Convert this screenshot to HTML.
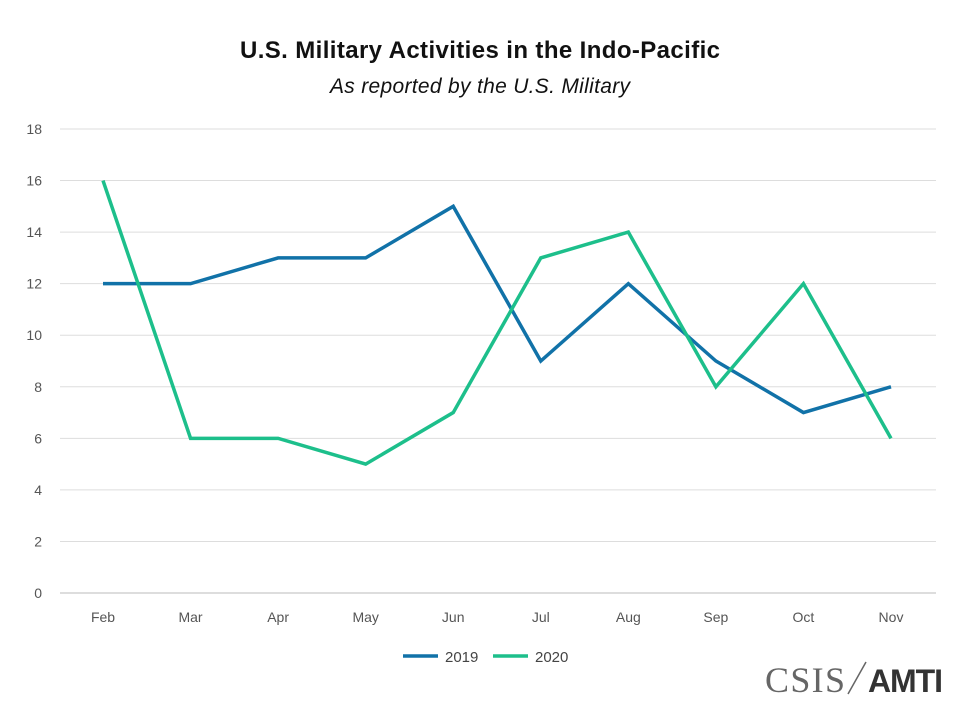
<!DOCTYPE html>
<html><head><meta charset="utf-8"><style>
body{margin:0;background:#fff;}
svg text{font-family:"Liberation Sans",sans-serif;}
svg text.serif{font-family:"Liberation Serif",serif;}
</style></head><body>
<svg id="chart" width="960" height="706" xmlns="http://www.w3.org/2000/svg">
<rect width="960" height="706" fill="#fff"/>
<text x="480" y="58" text-anchor="middle" font-size="24" font-weight="bold" fill="#111" textLength="480">U.S. Military Activities in the Indo-Pacific</text>
<text x="480" y="93" text-anchor="middle" font-size="21" font-style="italic" fill="#111" textLength="300">As reported by the U.S. Military</text>
<g id="grid"></g><g id="yticks"></g><g id="xticks"></g><g id="series"></g>
<g>
<line x1="403" y1="656" x2="438" y2="656" stroke="#1172a8" stroke-width="3.5"/>
<text x="445" y="662" font-size="15" fill="#444">2019</text>
<line x1="493" y1="656" x2="528" y2="656" stroke="#1dbf8b" stroke-width="3.5"/>
<text x="535" y="662" font-size="15" fill="#444">2020</text>
</g>
<g>
<text class="serif" x="765" y="692" font-size="36" fill="#666" textLength="80">CSIS</text>
<line x1="848" y1="694" x2="866" y2="662" stroke="#666" stroke-width="1.5"/>
<text x="868" y="692" font-size="32" font-weight="bold" fill="#333" textLength="75">AMTI</text>
</g>
</svg>
<script>
const categories=["Feb","Mar","Apr","May","Jun","Jul","Aug","Sep","Oct","Nov"];
const values2019=[12,12,13,13,15,9,12,9,7,8];
const values2020=[16,6,6,5,7,13,14,8,12,6];
const yTicks=[0,2,4,6,8,10,12,14,16,18];
const NS="http://www.w3.org/2000/svg";
const x=i=>103+i*(891-103)/(categories.length-1);
const y=v=>593-v*(593-129)/18;
function mk(t,a,p){const e=document.createElementNS(NS,t);for(const k in a)e.setAttribute(k,a[k]);p.appendChild(e);return e;}
const grid=document.getElementById('grid'),yt=document.getElementById('yticks'),xt=document.getElementById('xticks'),ser=document.getElementById('series');
yTicks.forEach(v=>{
 const l=mk('line',{x1:60,x2:936,y1:y(v),y2:y(v),stroke:v===0?'#bbb':'#ddd','stroke-width':1},grid);
 
 
 const t=mk('text',{x:42,y:y(v)+5,'text-anchor':'end','font-size':14,fill:'#555'},yt);t.textContent=v;
 
 
});
categories.forEach((c,i)=>{
 const t=mk('text',{x:x(i),y:622,'text-anchor':'middle','font-size':14,fill:'#555'},xt);t.textContent=c;
 
 
});
[[values2019,'#1172a8','2019'],[values2020,'#1dbf8b','2020']].forEach(([vals,col,n])=>{
 const p=mk('polyline',{points:vals.map((v,i)=>x(i)+','+y(v)).join(' '),fill:'none',stroke:col,'stroke-width':3.5,'stroke-linejoin':'miter'},ser);
 
 
});
</script>
</body></html>
